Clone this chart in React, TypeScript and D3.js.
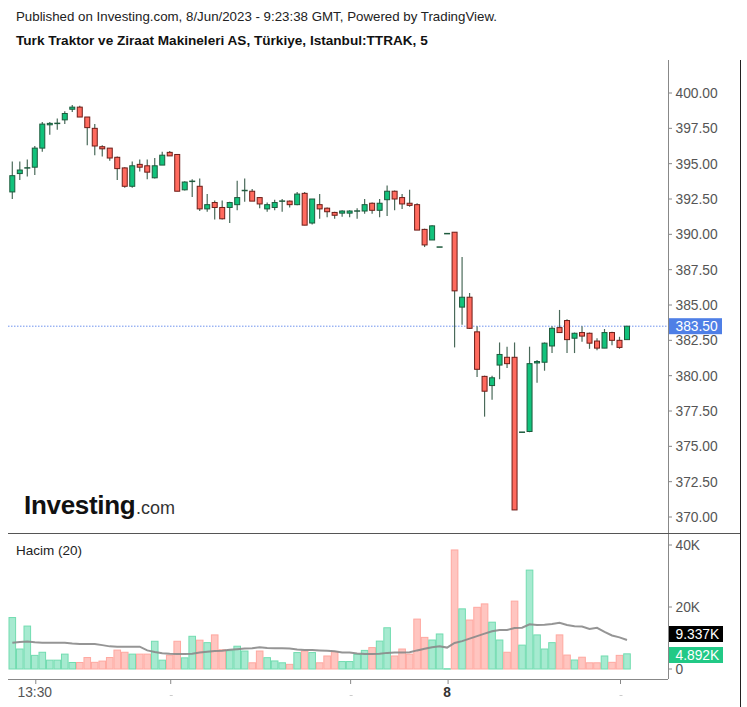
import React from "react";
import * as d3 from "d3";

const opens = [393.0,394.3,394.65,394.75,396.1,397.75,397.8,398.1,398.85,399.0,398.3,397.5,396.2,396.1,395.45,394.7,393.4,394.95,394.85,394.0,394.9,395.8,395.65,393.15,393.7,393.4,391.8,392.25,391.9,391.9,392.1,393.05,393.05,392.6,391.8,391.9,392.3,392.35,392.1,392.9,390.8,392.1,391.85,391.55,391.5,391.5,391.6,391.65,392.2,391.7,392.45,393.05,392.6,392.2,392.1,390.35,389.6,389.1,390.05,390.15,384.85,385.55,383.1,379.95,379.3,380.75,381.3,381.3,376.0,376.05,380.9,380.95,382.1,383.4,383.9,382.65,383.05,383.0,382.45,381.95,383.05,382.5,382.55];
const highs = [395.15,395.15,395.3,396.25,397.95,397.95,398.2,398.7,399.15,399.1,398.3,397.8,396.3,396.1,395.5,394.75,395.15,395.3,395.3,395.4,395.85,395.9,395.65,393.75,393.9,393.95,392.85,392.4,392.4,392.3,393.8,393.95,393.2,392.65,392.25,392.45,392.5,392.4,393.0,393.0,392.5,392.85,391.9,391.6,391.7,391.7,391.85,392.5,392.25,392.5,393.45,393.1,392.85,393.15,392.2,390.4,390.65,389.1,390.05,390.15,388.4,385.85,383.5,380.0,380.0,382.35,382.05,382.35,376.0,382.05,381.1,382.35,383.5,384.65,384.0,383.05,383.5,383.05,382.65,383.3,383.1,382.75,383.5];
const lows = [392.5,393.85,394.1,394.2,395.85,397.05,397.4,397.8,398.65,398.3,396.3,395.6,395.5,395.2,393.85,393.3,393.3,394.45,393.9,393.95,394.9,395.55,393.05,393.1,392.65,391.65,391.6,391.05,391.05,390.8,391.7,392.3,392.35,391.85,391.6,391.7,391.6,391.9,392.05,390.65,390.7,391.1,391.2,391.1,391.25,391.2,391.1,391.45,391.45,391.2,391.3,391.7,391.8,391.95,390.3,389.1,389.6,389.1,390.05,382.0,383.6,383.3,379.9,377.1,378.3,379.75,380.55,370.5,376.0,376.0,379.5,380.35,381.6,383.05,381.6,381.6,382.4,381.9,381.8,381.95,382.15,381.9,382.55];
const closes = [394.15,394.55,394.7,396.1,397.8,397.85,397.85,398.55,399.0,398.3,397.55,396.25,396.05,395.4,394.65,393.4,394.85,394.75,394.4,394.85,395.6,395.55,393.05,393.7,393.75,391.8,392.1,391.9,391.1,392.25,392.6,393.1,392.35,392.15,392.1,392.25,392.35,392.1,392.85,390.65,392.5,391.8,391.6,391.35,391.65,391.65,391.65,392.1,391.7,392.2,393.05,392.5,392.15,392.05,390.3,389.25,390.6,389.1,390.05,386.0,385.55,383.35,380.45,378.9,379.85,381.5,380.85,370.5,376.0,380.85,381.0,382.3,383.35,383.05,382.55,383.0,382.8,382.3,381.95,383.05,382.5,382.0,383.5];
const volumesK = [16.6,6.45,13.85,4.4,5.4,2.85,2.85,4.8,2.1,2.1,3.7,2.15,2.55,3.7,6.1,5.4,4.8,4.8,4.8,8.95,2.85,4.45,8.95,3.6,10.55,9.3,8.5,11.0,6.2,5.9,7.35,5.8,2.0,5.8,3.65,2.6,2.0,1.5,5.3,5.8,5.3,2.0,4.2,5.6,2.4,2.4,4.7,6.0,6.9,9.0,13.3,4.2,6.45,4.8,16.1,10.2,9.35,11.3,0.1,38.4,19.4,15.8,19.9,21.0,15.1,9.35,5.4,21.9,7.7,31.9,11.0,6.45,8.5,11.0,4.5,2.9,3.8,2.0,2.0,4.2,2.15,4.4,4.892];
const volumeMAK = [8.5,8.7,8.9,8.6,8.5,8.5,8.5,8.5,8.2,8.1,8.1,8.1,7.7,7.3,7.2,7.2,7.2,7.2,6.0,5.5,5.1,4.9,4.85,4.85,4.9,5.3,5.6,5.8,5.9,6.2,6.4,6.6,6.7,7.0,6.8,6.7,6.7,6.6,6.3,6.1,6.1,6.0,5.9,5.7,5.3,5.3,5.0,4.85,4.85,4.9,5.2,5.3,5.3,5.4,6.0,6.5,7.0,7.3,6.9,8.4,9.0,9.8,10.6,11.4,12.2,12.6,12.6,13.2,13.3,14.4,14.2,14.3,14.5,14.9,14.2,13.8,13.7,12.9,13.3,12.0,10.8,10.2,9.337];

const priceTicks = [400, 397.5, 395, 392.5, 390, 387.5, 385, 382.5, 380, 377.5, 375, 372.5, 370];
const volumeTicks = [40, 20, 0];
const volumeTickLabels = ["40K", "20K", "0"];
const timeTickIndex = [3, 21, 45, 58, 81];
const timeTickLabels = ["13:30", "", "", "8", ""];
const lastPrice = 383.5;

const FONT = "Arial, 'Liberation Sans', sans-serif";

export default function App() {
  const W = 747, H = 707;
  const plotL = 8, plotR = 668, borderR = 740;
  const top = 60, sep = 533, axisY = 679;
  const n = closes.length;
  const x = d3.scaleLinear().domain([0, n - 1]).range([12.3, 627]);
  const y = d3.scaleLinear().domain([370, 400]).range([517, 93]);
  const yv = d3.scaleLinear().domain([0, 40]).range([669, 545]);
  const bodyW = 5;
  const barW = 6.6;
  const axisFs = 13.8;

  const maLine = d3.line<number>().x((_, i) => x(i)).y((d) => yv(d)).curve(d3.curveLinear)(volumeMAK) || "";

  const green = "#12c27c";
  const greenBorder = "#1d5a3c";
  const red = "#ff6a5e";
  const redBorder = "#6e1d18";
  const wick = "#4a6a5a";

  const lastVol = volumesK[n - 1];
  const lastMA = volumeMAK[n - 1];

  return (
    <svg width={W} height={H} style={{ position: "absolute", left: 0, top: 0, background: "#fff" }} fontFamily={FONT}>
      <rect x={0} y={0} width={W} height={H} fill="#fff" />
      <text x={16} y={21} fontSize={13.3} fill="#222">Published on Investing.com, 8/Jun/2023 - 9:23:38 GMT, Powered by TradingView.</text>
      <text x={16} y={45} fontSize={13.6} fontWeight="bold" fill="#111">Turk Traktor ve Ziraat Makineleri AS, Türkiye, Istanbul:TTRAK, 5</text>

      {/* frame lines */}
      <line x1={plotR + 0.5} x2={plotR + 0.5} y1={top} y2={axisY} stroke="#888" strokeWidth={1} />
      <line x1={borderR + 0.5} x2={borderR + 0.5} y1={top} y2={H} stroke="#222" strokeWidth={1} />
      <line x1={plotL} x2={borderR} y1={sep + 0.5} y2={sep + 0.5} stroke="#555" strokeWidth={1} />
      <line x1={plotL} x2={plotR} y1={axisY + 0.5} y2={axisY + 0.5} stroke="#888" strokeWidth={1} />

      {/* logo */}
      <text x={24} y={514} fontSize={26} fontWeight="bold" fill="#111" letterSpacing={-0.3}>Investing</text>
      <text x={136} y={514} fontSize={18} fill="#333">.com</text>

      {/* price axis */}
      {priceTicks.map((t) => (
        <g key={t}>
          <line x1={plotR} x2={plotR + 4} y1={y(t)} y2={y(t)} stroke="#888" />
          <text x={675.5} y={y(t) + 5} fontSize={axisFs} fill="#555">{t.toFixed(2)}</text>
        </g>
      ))}

      {/* last price line */}
      <line x1={plotL} x2={plotR} y1={y(lastPrice)} y2={y(lastPrice)} stroke="#6f93ee" strokeWidth={1} strokeDasharray="1.5 1.5" />
      <rect x={plotR + 1} y={y(lastPrice) - 8} width={53} height={16} fill="#4f7fe6" />
      <text x={675.5} y={y(lastPrice) + 5} fontSize={axisFs} fill="#fff">{lastPrice.toFixed(2)}</text>

      {/* candles */}
      {closes.map((c, i) => {
        const o = opens[i];
        const up = c >= o;
        const cx = x(i);
        const yt = y(Math.max(o, c));
        const yb = y(Math.min(o, c));
        const flat = yb - yt < 1;
        return (
          <g key={i}>
            <line x1={cx} x2={cx} y1={y(highs[i])} y2={y(lows[i])} stroke={wick} strokeWidth={1.2} />
            {flat ? (
              <line x1={cx - bodyW / 2 - 0.5} x2={cx + bodyW / 2 + 0.5} y1={yt} y2={yt} stroke={greenBorder} strokeWidth={1.5} />
            ) : (
              <rect x={cx - bodyW / 2} y={yt} width={bodyW} height={yb - yt} fill={up ? green : red} stroke={up ? greenBorder : redBorder} strokeWidth={1} />
            )}
          </g>
        );
      })}

      {/* volume */}
      <text x={16} y={555} fontSize={13.5} fill="#222">Hacim (20)</text>
      {volumesK.map((v, i) => {
        const up = closes[i] >= opens[i];
        const cx = x(i);
        return (
          <rect key={i} x={cx - barW / 2} y={yv(v)} width={barW} height={Math.max(0.5, yv(0) - yv(v))}
            fill={up ? "#a6ead0" : "#ffc5c0"} stroke={up ? "#72dcb0" : "#ffa8a0"} strokeWidth={1} />
        );
      })}
      <path d={maLine} fill="none" stroke="#8a8a8a" strokeWidth={2} strokeOpacity={0.9} />

      {volumeTicks.map((t, i) => (
        <g key={t}>
          <line x1={plotR} x2={plotR + 4} y1={yv(t)} y2={yv(t)} stroke="#888" />
          <text x={675.5} y={yv(t) + 5} fontSize={axisFs} fill="#555">{volumeTickLabels[i]}</text>
        </g>
      ))}
      <rect x={plotR + 1} y={626} width={54} height={16} fill="#000" />
      <text x={675.5} y={639} fontSize={axisFs} fill="#fff">{lastMA.toFixed(3)}K</text>
      <rect x={plotR + 1} y={647} width={54} height={16} fill="#22c986" />
      <text x={675.5} y={660} fontSize={axisFs} fill="#fff">{lastVol.toFixed(3)}K</text>

      {/* time axis */}
      {timeTickIndex.map((ti, k) => (
        <g key={ti}>
          <line x1={x(ti) + 1} x2={x(ti) + 1} y1={axisY} y2={axisY + 5} stroke="#888" />
          {timeTickLabels[k] ? (
            <text x={x(ti)} y={697} fontSize={13.8} textAnchor="middle" fill={timeTickLabels[k] === "8" ? "#333" : "#555"} fontWeight={timeTickLabels[k] === "8" ? "bold" : "normal"}>{timeTickLabels[k]}</text>
          ) : (
            <line x1={x(ti)} x2={x(ti) + 3} y1={695.5} y2={695.5} stroke="#ccc" />
          )}
        </g>
      ))}
    </svg>
  );
}
